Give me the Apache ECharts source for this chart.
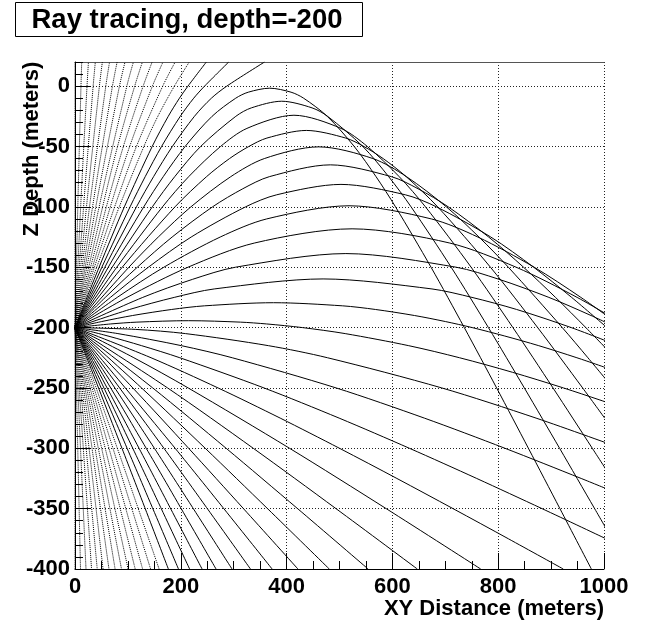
<!DOCTYPE html>
<html>
<head>
<meta charset="utf-8">
<script src="https://cdn.jsdelivr.net/npm/echarts@6/dist/echarts.min.js"></script>
<style>
html,body{margin:0;padding:0;background:#fff;}
#chart{width:646px;height:623px;}
</style>
</head>
<body>
<div id="chart"></div>
<script>
// ---- Data: ray paths [XY distance (m), Z depth (m)] ----
// Launch angles (degrees above horizontal) for each family of rays
const upAngles = [90, 87, 84, 81, 78, 75, 72, 69, 66, 63, 60, 57, 54, 51, 48, 45, 42];
const raysUp = [
  [[0,-200],[0,20]],
  [[0,-200],[5.3,-100],[11.3,0],[12.7,20]],
  [[0,-200],[10.7,-100],[22.7,0],[25.4,20]],
  [[0,-200],[16.2,-100],[34.3,0],[38.4,20]],
  [[0,-200],[21.7,-100],[46.1,0],[51.7,20]],
  [[0,-200],[27.4,-100],[58.2,0],[65.3,20]],
  [[0,-200],[33.2,-100],[70.8,0],[79.6,20]],
  [[0,-200],[39.3,-100],[84.0,0],[94.5,20]],
  [[0,-200],[45.6,-100],[98.0,0],[110.4,20]],
  [[0,-200],[52.2,-100],[80.4,-50],[112.8,0],[127.4,20]],
  [[0,-200],[59.3,-100],[91.4,-50],[128.8,0],[145.8,20]],
  [[0,-200],[66.8,-100],[103.3,-50],[146.3,0],[166.3,20]],
  [[0,-200],[36.7,-150],[74.9,-100],[116.1,-50],[165.8,0],[189.3,20]],
  [[0,-200],[41.0,-150],[83.7,-100],[130.2,-50],[156.6,-25],[187.8,0],[216.0,20]],
  [[0,-200],[45.6,-150],[93.3,-100],[145.9,-50],[176.3,-25],[197.4,-10],[213.5,0],[248.3,20]],
  [[0,-200],[50.8,-150],[104.1,-100],[132.7,-75],[163.6,-50],[199.0,-25],[224.4,-10],[244.9,0],[290.6,20]],
  [[0,-200],[56.5,-150],[116.2,-100],[148.5,-75],[184.0,-50],[225.8,-25],[257.8,-10],[286.9,0],[358.3,20]]
];

const turnAngles = [39, 36, 33, 30, 27, 24, 21, 18, 15, 12, 9, 6, 3];
const raysTurn = [
  [[0,-200],[62.9,-150],[130.0,-100],[166.8,-75],[208.1,-50],[259.1,-25],[303.8,-10],[327.6,-5],[368.0,-1.7],[408.4,-5],[432.2,-10],[476.8,-25],[527.9,-50],[569.1,-75],[605.9,-100],[673.0,-150],[735.9,-200],[797.0,-250],[857.1,-300],[916.7,-350],[976.1,-400]],
  [[0,-200],[70.3,-150],[146.2,-100],[188.5,-75],[237.4,-50],[304.0,-25],[333.4,-18],[390.7,-12.5],[448.1,-18],[477.5,-25],[544.1,-50],[593.0,-75],[635.3,-100],[711.1,-150],[781.5,-200],[849.4,-250],[916.1,-300],[982.3,-350],[1015.2,-375]],
  [[0,-200],[79.0,-150],[165.4,-100],[214.9,-75],[275.1,-50],[325.0,-35],[413.9,-24.1],[502.8,-35],[552.7,-50],[612.9,-75],[662.5,-100],[748.8,-150],[827.8,-200],[903.6,-250],[977.9,-300],[1014.8,-325]],
  [[0,-200],[89.3,-150],[189.0,-100],[248.6,-75],[292.1,-60],[328.5,-50],[362.8,-43],[437.3,-36.7],[511.8,-43],[546.1,-50],[582.5,-60],[626.1,-75],[685.6,-100],[785.3,-150],[874.6,-200],[959.6,-250],[1001.3,-275]],
  [[0,-200],[101.9,-150],[157.4,-125],[219.1,-100],[294.4,-75],[357.9,-60],[460.6,-50.3],[563.2,-60],[626.7,-75],[702.0,-100],[763.7,-125],[819.2,-150],[921.1,-200],[969.6,-225],[1017.1,-250]],
  [[0,-200],[57.3,-175],[117.8,-150],[183.6,-125],[260.0,-100],[317.2,-85],[367.3,-75],[482.8,-65.2],[598.3,-75],[648.5,-85],[705.6,-100],[782.0,-125],[847.9,-150],[908.3,-175],[965.6,-200],[1020.9,-225]],
  [[0,-200],[66.9,-175],[138.7,-150],[219.6,-125],[322.4,-100],[381.3,-90],[502.8,-81.4],[624.4,-90],[683.3,-100],[786.0,-125],[867.0,-150],[938.8,-175],[1005.6,-200]],
  [[0,-200],[79.8,-175],[168.0,-150],[274.5,-125],[362.3,-110],[518.0,-99.1],[673.7,-110],[761.5,-125],[868.0,-150],[956.3,-175],[1036.0,-200]],
  [[0,-200],[98.3,-175],[213.6,-150],[338.9,-130],[523.8,-118.2],[708.6,-130],[833.9,-150],[949.2,-175],[1047.5,-200]],
  [[0,-200],[128.1,-175],[222.5,-160],[303.4,-150],[512.0,-138.7],[720.5,-150],[801.4,-160],[895.8,-175],[975.5,-190],[1023.9,-200]],
  [[0,-200],[103.3,-185],[187.6,-175],[263.2,-168],[469.0,-159.7],[674.8,-168],[750.4,-175],[834.8,-185],[938.0,-200],[1027.1,-215]],
  [[0,-200],[50.5,-195],[109.0,-190],[182.8,-185],[244.6,-182],[375.3,-179.4],[506.0,-182],[567.8,-185],[641.7,-190],[700.1,-195],[750.7,-200],[812.4,-207],[876.7,-215],[948.8,-225],[1015.3,-235]],
  [[0,-200],[67.5,-197],[117.0,-195.5],[214.9,-194.3],[312.7,-195.5],[362.2,-197],[429.7,-200],[510.8,-205],[630.9,-215],[727.0,-225],[826.7,-237],[923.3,-250],[992.3,-260],[1025.6,-265]]
];

const downAngles = [0, -3, -6, -9, -12, -15, -18, -21, -24, -27, -30, -33, -36, -39, -42, -45, -48, -51, -54, -57, -60, -63, -66, -69, -72, -75, -78, -81, -84, -87, -90];
const raysDown = [
  [[0,-200],[114.0,-201.5],[209.0,-205],[365.8,-215],[477.4,-225],[693.3,-250],[871.6,-275],[1032.7,-300]],
  [[0,-200],[81.1,-205],[201.2,-215],[297.3,-225],[493.6,-250],[660.4,-275],[812.8,-300],[956.9,-325],[1013.0,-335]],
  [[0,-200],[62.4,-207],[126.0,-215],[198.2,-225],[357.2,-250],[499.3,-275],[632.2,-300],[759.4,-325],[882.9,-350],[1004.1,-375]],
  [[0,-200],[143.8,-225],[270.4,-250],[387.9,-275],[500.0,-300],[608.5,-325],[714.7,-350],[819.4,-375],[923.0,-400]],
  [[0,-200],[111.3,-225],[213.9,-250],[405.6,-300],[588.3,-350],[766.9,-400]],
  [[0,-200],[175.0,-250],[337.0,-300],[493.4,-350],[647.1,-400]],
  [[0,-200],[146.9,-250],[285.7,-300],[420.8,-350],[554.1,-400]],
  [[0,-200],[125.8,-250],[246.2,-300],[364.0,-350],[480.7,-400]],
  [[0,-200],[109.3,-250],[214.8,-300],[318.5,-350],[421.4,-400]],
  [[0,-200],[189.3,-300],[372.6,-400]],
  [[0,-200],[168.1,-300],[331.7,-400]],
  [[0,-200],[150.1,-300],[296.8,-400]],
  [[0,-200],[134.6,-300],[266.6,-400]],
  [[0,-200],[121.1,-300],[240.2,-400]],
  [[0,-200],[109.2,-300],[216.7,-400]],
  [[0,-200],[98.5,-300],[195.6,-400]],
  [[0,-200],[88.8,-300],[176.5,-400]],
  [[0,-200],[80.0,-300],[159.0,-400]],
  [[0,-200],[71.8,-300],[142.9,-400]],
  [[0,-200],[64.2,-300],[127.8,-400]],
  [[0,-200],[57.1,-300],[113.8,-400]],
  [[0,-200],[50.4,-300],[100.4,-400]],
  [[0,-200],[44.1,-300],[87.9,-400]],
  [[0,-200],[38.0,-300],[75.8,-400]],
  [[0,-200],[32.2,-300],[64.2,-400]],
  [[0,-200],[26.6,-300],[53.0,-400]],
  [[0,-200],[21.1,-300],[42.0,-400]],
  [[0,-200],[15.7,-300],[31.3,-400]],
  [[0,-200],[10.4,-300],[20.8,-400]],
  [[0,-200],[5.2,-300],[10.4,-400]],
  [[0,-200],[0,-400]]
];

const titleText = 'Ray tracing, depth=-200';
const xTitle = 'XY Distance (meters)';
const yTitle = 'Z Depth (meters)';
const xRange = [0, 1000];
const yRange = [-400, 20];

// ---- Build chart ----
const FONT = '"Liberation Sans", Arial, Helvetica, sans-serif';
const chart = echarts.init(document.getElementById('chart'), null, {renderer: 'canvas'});

function raySeries(angles, rays) {
  return rays.map((pts, i) => ({
    type: 'line',
    name: 'ray ' + angles[i],
    xAxisIndex: 0,
    yAxisIndex: 0,
    data: pts,
    smooth: 0.3,
    showSymbol: false,
    symbol: 'none',
    silent: true,
    clip: true,
    lineStyle: {
      color: '#000',
      width: 1,
      type: Math.abs(angles[i]) >= 51 ? [1, 1] : 'solid'
    },
    z: 3
  }));
}

const series = [].concat(
  raySeries(upAngles, raysUp),
  raySeries(turnAngles, raysTurn),
  raySeries(downAngles, raysDown)
);

const labelStyle = {fontFamily: FONT, fontWeight: 'bold', fontSize: 22, color: '#000'};

const option = {
  animation: false,
  backgroundColor: '#fff',
  grid: {left: 75, right: 42, top: 62, bottom: 54, show: false},
  xAxis: [
    {
      type: 'value', min: xRange[0], max: xRange[1], interval: 200, position: 'bottom',
      axisLine: {show: true, onZero: false, lineStyle: {color: '#000', width: 1}},
      axisTick: {show: true, inside: true, length: 16, lineStyle: {color: '#000', width: 1}},
      minorTick: {show: true, splitNumber: 4, length: 8, lineStyle: {color: '#000', width: 1}},
      splitLine: {show: true, lineStyle: {color: '#222', width: 1, type: [1, 2]}},
      axisLabel: Object.assign({margin: 7, formatter: v => String(v)}, labelStyle)
    },
    {
      type: 'value', min: xRange[0], max: xRange[1], position: 'top',
      axisLine: {show: true, onZero: false, lineStyle: {color: '#555', width: 1}},
      axisTick: {show: false}, axisLabel: {show: false}, splitLine: {show: false}
    }
  ],
  yAxis: [
    {
      type: 'value', min: yRange[0], max: yRange[1], interval: 50, position: 'left',
      axisLine: {show: true, onZero: false, lineStyle: {color: '#000', width: 1}},
      axisTick: {show: true, inside: true, length: 16, lineStyle: {color: '#000', width: 1}},
      splitLine: {show: true, lineStyle: {color: '#222', width: 1, type: [1, 2]}},
      axisLabel: Object.assign({margin: 5, showMaxLabel: false, formatter: v => String(v)}, labelStyle)
    },
    {
      type: 'value', min: yRange[0], max: yRange[1], interval: 10, position: 'left', offset: 0,
      axisLine: {show: false},
      axisTick: {show: true, inside: true, length: 8, lineStyle: {color: '#000', width: 1}},
      axisLabel: {show: false}, splitLine: {show: false}
    }
  ],
  graphic: [
    {
      type: 'rect', left: 15, top: 2, z: 10,
      shape: {x: 0, y: 0, width: 347, height: 34},
      style: {fill: '#fff', stroke: '#000', lineWidth: 1}
    },
    {
      type: 'text', x: 187, y: 20, z: 11,
      style: {text: titleText, font: 'bold 27.5px ' + FONT, fill: '#000',
              textAlign: 'center', textVerticalAlign: 'middle', align: 'center', verticalAlign: 'middle'}
    },
    {
      type: 'text', x: 32, y: 149, rotation: Math.PI / 2, z: 11,
      style: {text: yTitle, font: 'bold 22px ' + FONT, fill: '#000',
              textAlign: 'center', textVerticalAlign: 'middle', align: 'center', verticalAlign: 'middle'}
    },
    {
      type: 'text', x: 604, y: 609, z: 11,
      style: {text: xTitle, font: 'bold 22px ' + FONT, fill: '#000',
              textAlign: 'right', textVerticalAlign: 'middle', align: 'right', verticalAlign: 'middle'}
    }
  ],
  series: series
};

chart.setOption(option);
</script>
</body>
</html>
